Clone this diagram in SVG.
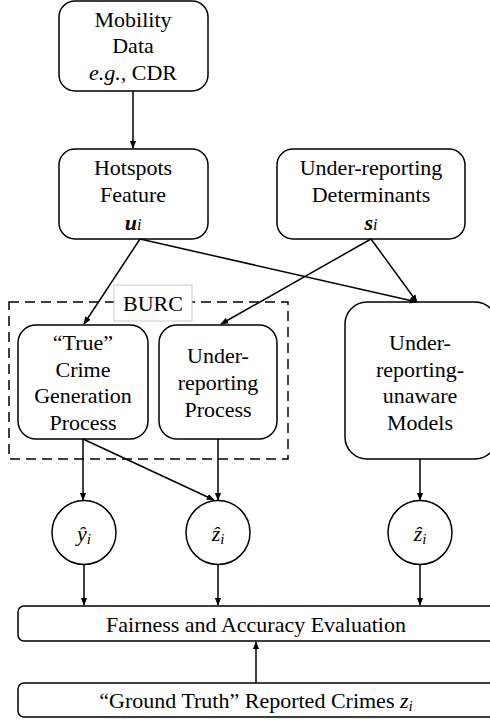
<svg xmlns="http://www.w3.org/2000/svg" width="490" height="721" viewBox="0 0 490 721">
<style>
.box{fill:#fff;stroke:#000;stroke-width:1.5}
.t{font-family:"Liberation Serif","Times New Roman",serif;font-size:22px;fill:#000;text-anchor:middle}
.m{font-style:italic}
.c{fill:none;stroke:#000;stroke-width:1.5}
</style>
<defs>
<marker id="ah" viewBox="0 0 10 10" refX="9" refY="5" markerWidth="8" markerHeight="8" markerUnits="userSpaceOnUse" orient="auto">
<path d="M0,1 L10,5 L0,9 z" fill="#000"/>
</marker>
</defs>
<rect width="490" height="721" fill="#fff"/>
<g id="burc">
<rect x="9" y="302" width="279" height="157" fill="none" stroke="#000" stroke-width="1.5" stroke-dasharray="10,6"/>
<rect x="114" y="285" width="78" height="36" fill="#fff" stroke="#c8c8c8" stroke-width="1"/>
<text class="t" x="153" y="311">BURC</text>
</g>
<g id="mobility">
<rect class="box" x="59" y="1" width="149" height="90" rx="16"/>
<text class="t" x="133" y="27">Mobility</text>
<text class="t" x="133" y="53">Data</text>
<text class="t" x="133" y="80"><tspan class="m">e.g.,</tspan> CDR</text>
</g>
<g id="hotspots">
<rect class="box" x="59" y="149" width="149" height="90" rx="16"/>
<text class="t" x="133" y="175">Hotspots</text>
<text class="t" x="133" y="202">Feature</text>
<text class="t" x="133" y="230"><tspan font-weight="bold" font-style="italic">u</tspan><tspan class="m" font-size="16">i</tspan></text>
</g>
<g id="determinants">
<rect class="box" x="277" y="149" width="188" height="90" rx="16"/>
<text class="t" x="371" y="175">Under-reporting</text>
<text class="t" x="371" y="202">Determinants</text>
<text class="t" x="371" y="230"><tspan font-weight="bold" font-style="italic">s</tspan><tspan class="m" font-size="16">i</tspan></text>
</g>
<g id="truecrime">
<rect class="box" x="18" y="325" width="130" height="114" rx="18"/>
<text class="t" x="83" y="350">“True”</text>
<text class="t" x="83" y="377">Crime</text>
<text class="t" x="83" y="403">Generation</text>
<text class="t" x="83" y="430">Process</text>
</g>
<g id="urprocess">
<rect class="box" x="159" y="325" width="118" height="114" rx="18"/>
<text class="t" x="218" y="363">Under-</text>
<text class="t" x="218" y="390">reporting</text>
<text class="t" x="218" y="417">Process</text>
</g>
<g id="unaware">
<rect class="box" x="345" y="302" width="152" height="157" rx="22"/>
<text class="t" x="420" y="350">Under-</text>
<text class="t" x="420" y="377">reporting-</text>
<text class="t" x="420" y="403">unaware</text>
<text class="t" x="420" y="430">Models</text>
</g>
<g id="yhat">
<circle class="box" cx="84" cy="532.5" r="32"/>
<text class="t m" x="84" y="541">ŷ<tspan font-size="15" dy="3">i</tspan></text>
</g>
<g id="zhat1">
<circle class="box" cx="218" cy="532.5" r="32"/>
<text class="t m" x="218" y="541">ẑ<tspan font-size="15" dy="3">i</tspan></text>
</g>
<g id="zhat2">
<circle class="box" cx="420" cy="532.5" r="32"/>
<text class="t m" x="420" y="541">ẑ<tspan font-size="15" dy="3">i</tspan></text>
</g>
<g id="evaluation">
<rect class="box" x="18" y="606" width="480" height="35" rx="6"/>
<text class="t" x="256" y="632">Fairness and Accuracy Evaluation</text>
</g>
<g id="groundtruth">
<rect class="box" x="18" y="683" width="480" height="34" rx="6"/>
<text class="t" x="256" y="708">“Ground Truth” Reported Crimes <tspan class="m">z</tspan><tspan class="m" font-size="15" dy="3">i</tspan></text>
</g>
<g id="connectors">
<line class="c" x1="133" y1="91" x2="133" y2="148" marker-end="url(#ah)"/>
<line class="c" x1="140" y1="239" x2="84" y2="324" marker-end="url(#ah)"/>
<line class="c" x1="140" y1="239" x2="417" y2="302" marker-end="url(#ah)"/>
<line class="c" x1="371" y1="239" x2="221" y2="324" marker-end="url(#ah)"/>
<line class="c" x1="371" y1="239" x2="417" y2="302" marker-end="url(#ah)"/>
<line class="c" x1="83" y1="439" x2="83" y2="500" marker-end="url(#ah)"/>
<line class="c" x1="83" y1="439" x2="214" y2="500" marker-end="url(#ah)"/>
<line class="c" x1="218" y1="439" x2="218" y2="500" marker-end="url(#ah)"/>
<line class="c" x1="420" y1="459" x2="420" y2="500" marker-end="url(#ah)"/>
<line class="c" x1="84" y1="564" x2="84" y2="605" marker-end="url(#ah)"/>
<line class="c" x1="218" y1="564" x2="218" y2="605" marker-end="url(#ah)"/>
<line class="c" x1="420" y1="564" x2="420" y2="605" marker-end="url(#ah)"/>
<line class="c" x1="256" y1="683" x2="256" y2="642" marker-end="url(#ah)"/>
</g>
</svg>
